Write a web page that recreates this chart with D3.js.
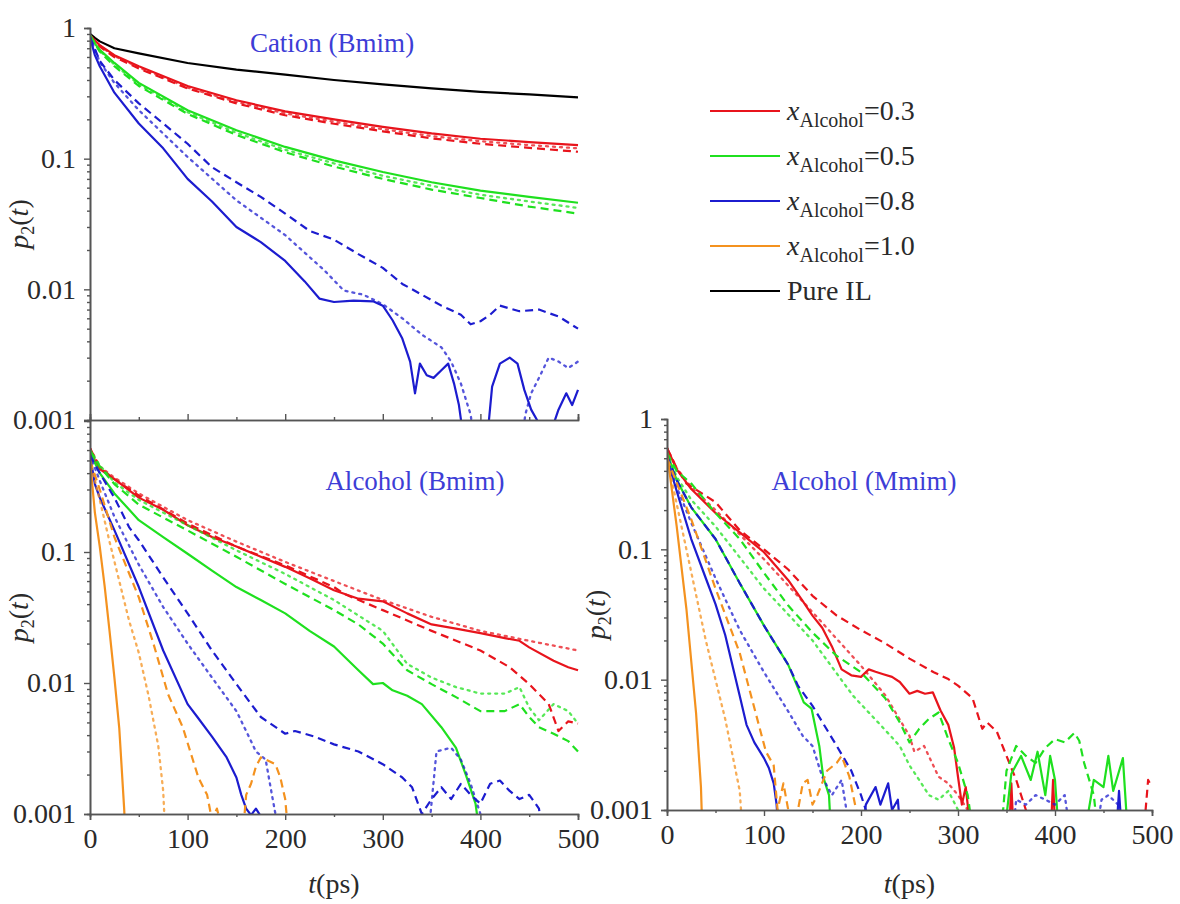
<!DOCTYPE html>
<html>
<head>
<meta charset="utf-8">
<script src="https://cdn.jsdelivr.net/npm/d3@7"></script>
<style>
body { margin: 0; background: #fff; }
</style>
</head>
<body>
<script>
// #region DATA  ([t in ps, p2(t)]; 0.0005 = dropped below the 0.001 axis)

// Cation (Bmim)
var cationPureIL = [[0,0.9],[5,0.84],[10,0.79],[25,0.7],[50,0.64],[100,0.54],[150,0.48],[200,0.44],[250,0.4],[300,0.37],[350,0.345],[400,0.325],[450,0.31],[500,0.295]];
var cationRed = [[0,0.88],[5,0.8],[10,0.74],[25,0.62],[50,0.51],[100,0.36],[150,0.28],[200,0.23],[250,0.2],[300,0.175],[350,0.156],[400,0.142],[450,0.134],[500,0.127]];
var cationRedDot = [[0,0.88],[10,0.73],[25,0.61],[50,0.5],[100,0.35],[150,0.272],[200,0.222],[250,0.192],[300,0.168],[350,0.149],[400,0.136],[450,0.127],[500,0.12]];
var cationRedDash = [[0,0.88],[10,0.72],[25,0.6],[50,0.49],[100,0.345],[150,0.265],[200,0.215],[250,0.185],[300,0.162],[350,0.143],[400,0.13],[450,0.121],[500,0.113]];
var cationGreen = [[0,0.88],[5,0.76],[10,0.68],[25,0.54],[50,0.38],[100,0.235],[150,0.165],[200,0.123],[250,0.097],[300,0.079],[350,0.066],[400,0.057],[450,0.051],[500,0.046]];
var cationGreenDot = [[0,0.88],[10,0.67],[25,0.525],[50,0.37],[100,0.227],[150,0.158],[200,0.117],[250,0.092],[300,0.074],[350,0.062],[400,0.053],[450,0.047],[500,0.042]];
var cationGreenDash = [[0,0.88],[10,0.66],[25,0.51],[50,0.36],[100,0.22],[150,0.152],[200,0.112],[250,0.087],[300,0.07],[350,0.058],[400,0.05],[450,0.043],[500,0.038]];
var cationBlue = [[0,0.85],[5,0.62],[10,0.51],[25,0.32],[50,0.186],[75,0.12],[100,0.07],[125,0.047],[150,0.03],[175,0.023],[200,0.0165],[220,0.0115],[235,0.0085],[250,0.008],[270,0.0082],[290,0.0081],[300,0.0075],[310,0.0058],[320,0.0042],[328,0.0028],[333,0.0016],[338,0.0027],[345,0.0022],[352,0.0021],[360,0.0024],[367,0.0027],[373,0.0019],[378,0.0013],[383,0.0007],[395,0.0005],[405,0.0005],[412,0.0018],[420,0.0027],[430,0.003],[438,0.0027],[445,0.0017],[452,0.0012],[458,0.001],[465,0.0007],[472,0.0008],[480,0.0012],[488,0.0016],[494,0.0013],[500,0.0017]];
var cationBlueDot = [[0,0.85],[10,0.55],[25,0.38],[50,0.235],[100,0.103],[150,0.048],[200,0.026],[240,0.014],[260,0.0098],[280,0.0091],[300,0.0077],[320,0.006],[340,0.0045],[360,0.0036],[370,0.0028],[380,0.0019],[390,0.0011],[396,0.0005],[440,0.0005],[446,0.0011],[452,0.0016],[460,0.0021],[470,0.003],[480,0.0028],[490,0.0025],[500,0.0028]];
var cationBlueDash = [[0,0.85],[10,0.56],[25,0.4],[50,0.265],[75,0.186],[100,0.13],[125,0.086],[150,0.066],[175,0.051],[200,0.038],[225,0.028],[250,0.024],[275,0.0186],[300,0.0146],[320,0.011],[340,0.0091],[360,0.0075],[380,0.0064],[390,0.0054],[400,0.0057],[410,0.0064],[420,0.0075],[440,0.0068],[460,0.007],[480,0.0062],[500,0.005]];

// Alcohol (Bmim)
var bmimRed = [[0,0.62],[5,0.5],[10,0.43],[25,0.36],[50,0.26],[75,0.21],[100,0.16],[125,0.13],[150,0.11],[175,0.092],[200,0.077],[225,0.063],[250,0.051],[275,0.044],[300,0.042],[325,0.034],[350,0.028],[375,0.026],[400,0.024],[425,0.022],[440,0.021],[450,0.0187],[475,0.0148],[490,0.0132],[500,0.0125]];
var bmimRedDot = [[0,0.62],[10,0.45],[25,0.37],[50,0.28],[100,0.175],[150,0.12],[200,0.084],[250,0.06],[300,0.043],[350,0.032],[400,0.025],[450,0.021],[500,0.0177]];
var bmimRedDash = [[0,0.62],[10,0.44],[25,0.36],[50,0.27],[100,0.165],[150,0.11],[200,0.079],[250,0.054],[260,0.048],[300,0.036],[350,0.025],[400,0.0177],[430,0.0132],[450,0.0098],[470,0.0069],[480,0.0043],[490,0.0051],[500,0.0049]];
var bmimGreen = [[0,0.6],[5,0.48],[10,0.4],[25,0.28],[50,0.175],[75,0.13],[100,0.097],[125,0.072],[150,0.054],[175,0.043],[200,0.034],[225,0.025],[250,0.019],[275,0.0125],[290,0.0098],[300,0.01],[310,0.0088],[325,0.008],[340,0.0069],[360,0.0046],[375,0.0032],[385,0.002],[395,0.0012],[402,0.0005]];
var bmimGreenDot = [[0,0.6],[10,0.46],[25,0.34],[50,0.25],[100,0.16],[150,0.103],[200,0.068],[250,0.043],[300,0.025],[325,0.014],[350,0.011],[375,0.0093],[400,0.0083],[425,0.0083],[440,0.0093],[450,0.0065],[460,0.0052],[475,0.0069],[490,0.0061],[500,0.0049]];
var bmimGreenDash = [[0,0.6],[10,0.45],[25,0.33],[50,0.23],[100,0.146],[150,0.092],[200,0.057],[250,0.036],[275,0.028],[300,0.02],[325,0.0125],[350,0.0098],[375,0.0078],[400,0.0061],[425,0.0061],[440,0.0069],[450,0.0055],[460,0.0046],[475,0.0041],[490,0.0036],[500,0.003]];
var bmimBlue = [[0,0.55],[5,0.33],[10,0.26],[25,0.147],[50,0.054],[75,0.0177],[100,0.0069],[110,0.0055],[125,0.0039],[140,0.0027],[150,0.0019],[155,0.0014],[160,0.0011],[165,0.00098],[170,0.0011],[175,0.00096],[180,0.0005]];
var bmimBlueDot = [[0,0.55],[10,0.35],[25,0.186],[50,0.08],[75,0.038],[100,0.02],[125,0.011],[150,0.0061],[160,0.0043],[170,0.003],[180,0.0026],[185,0.0016],[190,0.001],[195,0.0005],[345,0.0005],[355,0.003],[370,0.0032],[380,0.0026],[390,0.0017],[400,0.001],[405,0.0005]];
var bmimBlueDash = [[0,0.55],[10,0.4],[25,0.26],[40,0.155],[50,0.123],[75,0.064],[100,0.034],[125,0.0177],[150,0.0098],[175,0.0055],[200,0.0041],[210,0.0043],[230,0.0039],[250,0.0034],[275,0.003],[300,0.0024],[320,0.0019],[330,0.0016],[340,0.001],[350,0.0013],[360,0.0016],[370,0.0013],[380,0.0017],[390,0.0014],[400,0.0012],[410,0.0017],[420,0.0018],[430,0.0015],[440,0.0013],[450,0.0014],[460,0.0011],[466,0.0005]];
var bmimOrange = [[0,0.5],[5,0.2],[10,0.11],[15,0.055],[20,0.025],[25,0.011],[30,0.0045],[35,0.0011],[37,0.0005]];
var bmimOrangeDot = [[0,0.5],[10,0.25],[20,0.12],[30,0.06],[40,0.03],[50,0.017],[60,0.008],[70,0.0033],[75,0.0015],[78,0.0005]];
var bmimOrangeDash = [[0,0.5],[10,0.3],[25,0.13],[50,0.045],[65,0.02],[80,0.0082],[95,0.0046],[111,0.0019],[120,0.0014],[125,0.0009],[130,0.0011],[135,0.0008],[140,0.0005],[155,0.0005],[160,0.0014],[165,0.0017],[170,0.0023],[175,0.0027],[180,0.0026],[190,0.0024],[195,0.0019],[200,0.0013],[205,0.0005]];

// Alcohol (Mmim)
var mmimRed = [[0,0.6],[10,0.41],[25,0.29],[50,0.19],[75,0.135],[100,0.095],[125,0.058],[140,0.04],[150,0.031],[160,0.025],[170,0.018],[180,0.012],[190,0.0108],[200,0.0105],[208,0.012],[215,0.0115],[223,0.011],[232,0.0105],[240,0.0096],[250,0.0078],[258,0.0082],[266,0.0078],[274,0.008],[282,0.0058],[290,0.0045],[296,0.003],[300,0.0018],[304,0.0011],[308,0.0015],[312,0.0008],[316,0.0005],[352,0.0005],[355,0.0016],[358,0.0005],[395,0.0005],[398,0.0017],[401,0.0005]];
var mmimRedDot = [[0,0.6],[10,0.42],[25,0.3],[50,0.2],[75,0.13],[100,0.084],[150,0.033],[200,0.0128],[225,0.0076],[250,0.0037],[255,0.0028],[265,0.0031],[280,0.0018],[290,0.0016],[300,0.0013],[310,0.001],[315,0.0005]];
var mmimRedDash = [[0,0.6],[10,0.42],[20,0.32],[50,0.23],[75,0.14],[100,0.1],[125,0.07],[150,0.044],[175,0.031],[200,0.024],[225,0.019],[250,0.0145],[275,0.0114],[290,0.0101],[300,0.009],[315,0.0072],[325,0.0042],[330,0.0047],[340,0.004],[350,0.0026],[360,0.0017],[370,0.001],[375,0.0005],[490,0.0005],[496,0.0017],[500,0.0015]];
var mmimGreen = [[0,0.55],[10,0.34],[25,0.21],[50,0.12],[75,0.055],[100,0.026],[125,0.013],[134,0.009],[141,0.0067],[149,0.006],[157,0.0031],[161,0.0018],[167,0.0013],[170,0.0005],[346,0.0005],[355,0.0019],[365,0.0026],[375,0.0017],[382,0.0028],[390,0.0013],[395,0.0026],[400,0.0017],[405,0.0005],[428,0.0005],[440,0.0017],[450,0.0015],[455,0.0026],[460,0.0014],[470,0.0025],[476,0.0005]];
var mmimGreenDot = [[0,0.55],[10,0.36],[25,0.24],[50,0.15],[100,0.05],[150,0.02],[192,0.0075],[220,0.0045],[240,0.0031],[250,0.0022],[260,0.0017],[270,0.0013],[280,0.0012],[290,0.0014],[300,0.001],[305,0.0005]];
var mmimGreenDash = [[0,0.55],[10,0.4],[25,0.32],[50,0.19],[75,0.12],[100,0.066],[125,0.037],[150,0.023],[175,0.0152],[200,0.0114],[225,0.0072],[240,0.0047],[250,0.0033],[260,0.0042],[270,0.005],[280,0.0056],[290,0.0035],[300,0.0023],[310,0.0013],[318,0.0005],[343,0.0005],[350,0.002],[360,0.0031],[370,0.0026],[380,0.0023],[390,0.003],[400,0.0035],[410,0.0033],[420,0.0039],[425,0.0034],[430,0.0023],[440,0.0013],[446,0.0005]];
var mmimBlue = [[0,0.5],[10,0.28],[25,0.12],[40,0.06],[50,0.038],[60,0.022],[75,0.0075],[82,0.0045],[90,0.0033],[100,0.0025],[105,0.0021],[110,0.0016],[113,0.0011],[116,0.0005],[200,0.0005],[205,0.0011],[215,0.0015],[220,0.0011],[228,0.0016],[232,0.001],[238,0.0012],[242,0.0005],[462,0.0005],[466,0.0014],[470,0.0005]];
var mmimBlueDot = [[0,0.5],[10,0.3],[25,0.16],[50,0.06],[75,0.024],[100,0.0114],[125,0.0057],[140,0.0037],[150,0.0031],[160,0.0018],[170,0.0013],[180,0.0017],[185,0.001],[188,0.0005],[355,0.0005],[360,0.0012],[370,0.0011],[380,0.0013],[390,0.0012],[400,0.0011],[410,0.0013],[418,0.0005],[440,0.0005],[448,0.0012],[455,0.0013],[465,0.0011],[470,0.0005]];
var mmimBlueDash = [[0,0.52],[10,0.34],[25,0.21],[50,0.12],[75,0.055],[100,0.026],[125,0.013],[135,0.009],[150,0.0063],[175,0.0031],[190,0.002],[200,0.0013],[205,0.001],[208,0.0005]];
var mmimOrange = [[0,0.55],[10,0.15],[20,0.035],[30,0.0055],[35,0.0015],[37,0.0005]];
var mmimOrangeDot = [[0,0.5],[20,0.1],[40,0.02],[60,0.005],[75,0.0014],[79,0.0005]];
var mmimOrangeDash = [[0,0.5],[25,0.17],[50,0.05],[75,0.016],[91,0.0057],[102,0.0028],[110,0.0022],[114,0.001],[120,0.0016],[125,0.001],[130,0.0005],[135,0.001],[140,0.0016],[145,0.0017],[150,0.0011],[155,0.0013],[165,0.002],[175,0.0023],[180,0.0026],[188,0.0018],[195,0.001],[198,0.0005]];

var legendLabels = ["0.3", "0.5", "0.8", "1.0"];
var yMajor = [1, 0.1, 0.01, 0.001];
var xMajor = [0, 100, 200, 300, 400, 500];
// #endregion

var colors = {red: "#e8141c", green: "#1fe01f", blue: "#1c1ccf", orange: "#f4921f", black: "#000000"};
var dashes = {solid: null, dash: "8,5", dot: "2,5"};
var serif = "'Liberation Serif', 'Times New Roman', serif";
var axisColor = "#555";
var textColor = "#2a2a2a";

var svg = d3.select("body")
    .append("svg")
    .attr("width", 1180)
    .attr("height", 904)
    .style("font-family", serif);

var panels = [
    {
        id: "cation", x0: 90, x1: 578, yTop: 28, yBot: 420,
        title: "Cation (Bmim)", titleX: 332, titleY: 52,
        xLabels: false, yTicks: yMajor, tickDir: -1,
        series: [
            {data: cationPureIL, color: "black", style: "solid"},
            {data: cationRedDot, color: "red", style: "dot"},
            {data: cationRedDash, color: "red", style: "dash"},
            {data: cationRed, color: "red", style: "solid"},
            {data: cationGreenDot, color: "green", style: "dot"},
            {data: cationGreenDash, color: "green", style: "dash"},
            {data: cationGreen, color: "green", style: "solid"},
            {data: cationBlueDot, color: "blue", style: "dot"},
            {data: cationBlueDash, color: "blue", style: "dash"},
            {data: cationBlue, color: "blue", style: "solid"}
        ]
    },
    {
        id: "bmim", x0: 90, x1: 578, yTop: 421, yBot: 814,
        title: "Alcohol (Bmim)", titleX: 415, titleY: 490,
        xLabels: true, yTicks: yMajor.slice(1), tickDir: 1,
        series: [
            {data: bmimRedDot, color: "red", style: "dot"},
            {data: bmimRedDash, color: "red", style: "dash"},
            {data: bmimRed, color: "red", style: "solid"},
            {data: bmimGreenDot, color: "green", style: "dot"},
            {data: bmimGreenDash, color: "green", style: "dash"},
            {data: bmimGreen, color: "green", style: "solid"},
            {data: bmimBlueDot, color: "blue", style: "dot"},
            {data: bmimBlueDash, color: "blue", style: "dash"},
            {data: bmimBlue, color: "blue", style: "solid"},
            {data: bmimOrangeDot, color: "orange", style: "dot"},
            {data: bmimOrangeDash, color: "orange", style: "dash"},
            {data: bmimOrange, color: "orange", style: "solid"}
        ]
    },
    {
        id: "mmim", x0: 667, x1: 1152, yTop: 419, yBot: 810,
        title: "Alcohol (Mmim)", titleX: 864, titleY: 490,
        xLabels: true, yTicks: yMajor, tickDir: 1,
        series: [
            {data: mmimRedDot, color: "red", style: "dot"},
            {data: mmimRedDash, color: "red", style: "dash"},
            {data: mmimRed, color: "red", style: "solid"},
            {data: mmimGreenDot, color: "green", style: "dot"},
            {data: mmimGreenDash, color: "green", style: "dash"},
            {data: mmimGreen, color: "green", style: "solid"},
            {data: mmimBlueDot, color: "blue", style: "dot"},
            {data: mmimBlueDash, color: "blue", style: "dash"},
            {data: mmimBlue, color: "blue", style: "solid"},
            {data: mmimOrangeDot, color: "orange", style: "dot"},
            {data: mmimOrangeDash, color: "orange", style: "dash"},
            {data: mmimOrange, color: "orange", style: "solid"}
        ]
    }
];

// minor tick values
var yMinor = [];
[0.001, 0.01, 0.1].forEach(function(dec) {
    for (var k = 2; k <= 9; k++) yMinor.push(dec * k);
});
var xMinor = [50, 150, 250, 350, 450];

panels.forEach(function(p) {
    var x = d3.scaleLinear().domain([0, 500]).range([p.x0, p.x1]);
    var y = d3.scaleLog().domain([0.001, 1]).range([p.yBot, p.yTop]);

    var g = svg.append("g").attr("id", p.id);

    g.append("clipPath")
        .attr("id", "clip-" + p.id)
        .append("rect")
            .attr("x", p.x0)
            .attr("y", p.yTop - 2)
            .attr("width", p.x1 - p.x0 + 2)
            .attr("height", p.yBot - p.yTop + 2);

    var line = d3.line()
        .x(d => x(d[0]))
        .y(d => y(d[1]));

    g.append("g")
        .attr("clip-path", "url(#clip-" + p.id + ")")
        .selectAll("path")
        .data(p.series)
        .enter()
        .append("path")
            .attr("d", d => line(d.data))
            .attr("fill", "none")
            .attr("stroke", d => colors[d.color])
            .attr("stroke-width", d => d.style == "dot" ? 2.3 : 2.2)
            .attr("stroke-dasharray", d => dashes[d.style])
            .attr("stroke-linecap", d => d.style == "dot" ? "round" : "butt")
            .attr("stroke-linejoin", "round")
            .attr("opacity", d => d.style == "dot" ? 0.75 : 1);

    // y axis (ticks outward)
    var yAxis = g.append("g")
        .attr("transform", "translate(" + p.x0 + ",0)")
        .call(d3.axisLeft(y).tickValues(p.yTicks).tickSize(6).tickPadding(8).tickFormat(d3.format("~g")));
    var yMinorAxis = g.append("g")
        .attr("transform", "translate(" + p.x0 + ",0)")
        .call(d3.axisLeft(y).tickValues(yMinor).tickSize(3).tickFormat(""));

    // x axis
    var xAxis = g.append("g")
        .attr("transform", "translate(0," + p.yBot + ")")
        .call(d3.axisBottom(x).tickValues(xMajor).tickSize(6 * p.tickDir).tickPadding(8)
            .tickFormat(p.xLabels ? d3.format("d") : ""));
    var xMinorAxis = g.append("g")
        .attr("transform", "translate(0," + p.yBot + ")")
        .call(d3.axisBottom(x).tickValues(xMinor).tickSize(3 * p.tickDir).tickFormat(""));

    [yAxis, yMinorAxis, xAxis, xMinorAxis].forEach(function(a) {
        a.attr("font-family", serif).attr("font-size", 28);
        a.select(".domain").attr("stroke", axisColor).attr("stroke-width", 1.6);
        a.selectAll(".tick line").attr("stroke", axisColor).attr("stroke-width", 1.4);
        a.selectAll(".tick text").attr("fill", textColor);
    });
    if (!p.xLabels) xAxis.selectAll(".tick text").remove();

    // panel title
    g.append("text")
        .text(p.title)
        .attr("x", p.titleX)
        .attr("y", p.titleY)
        .attr("text-anchor", "middle")
        .attr("fill", "#3d3dd6")
        .attr("font-size", 27);

    // y label p2(t)
    var yl = g.append("text")
        .attr("transform", "translate(" + (p.x0 - 62) + "," + ((p.yTop + p.yBot) / 2) + ") rotate(-90)")
        .attr("text-anchor", "middle")
        .attr("fill", textColor)
        .attr("font-size", 28);
    yl.append("tspan").text("p").style("font-style", "italic");
    yl.append("tspan").text("2").attr("font-size", 18).attr("dy", 6);
    yl.append("tspan").text("(").attr("dy", -6);
    yl.append("tspan").text("t").style("font-style", "italic");
    yl.append("tspan").text(")");

    // x label t(ps)
    if (p.xLabels) {
        var xl = g.append("text")
            .attr("x", (p.x0 + p.x1) / 2)
            .attr("y", 893)
            .attr("text-anchor", "middle")
            .attr("fill", textColor)
            .attr("font-size", 28);
        xl.append("tspan").text("t").style("font-style", "italic");
        xl.append("tspan").text("(ps)");
    }
});

// #region LEGEND
var legendItems = legendLabels.map((v, i) => ({label: v, color: ["red", "green", "blue", "orange"][i]}))
    .concat([{label: null, color: "black"}]);

var legend = svg.append("g").attr("id", "legend");

var rows = legend.selectAll("g")
    .data(legendItems)
    .enter()
    .append("g")
    .attr("transform", (d, i) => "translate(710," + (111 + i * 45) + ")");

rows.append("line")
    .attr("x1", 0)
    .attr("x2", 70)
    .attr("stroke", d => colors[d.color])
    .attr("stroke-width", 2.2);

rows.each(function(d) {
    var t = d3.select(this).append("text")
        .attr("x", 77)
        .attr("y", 9)
        .attr("fill", textColor)
        .attr("font-size", 28);
    if (d.label === null) {
        t.text("Pure IL");
    } else {
        t.append("tspan").text("x").style("font-style", "italic");
        t.append("tspan").text("Alcohol").attr("font-size", 20).attr("dy", 7);
        t.append("tspan").text("=" + d.label).attr("dy", -7);
    }
});
// #endregion
</script>
</body>
</html>
